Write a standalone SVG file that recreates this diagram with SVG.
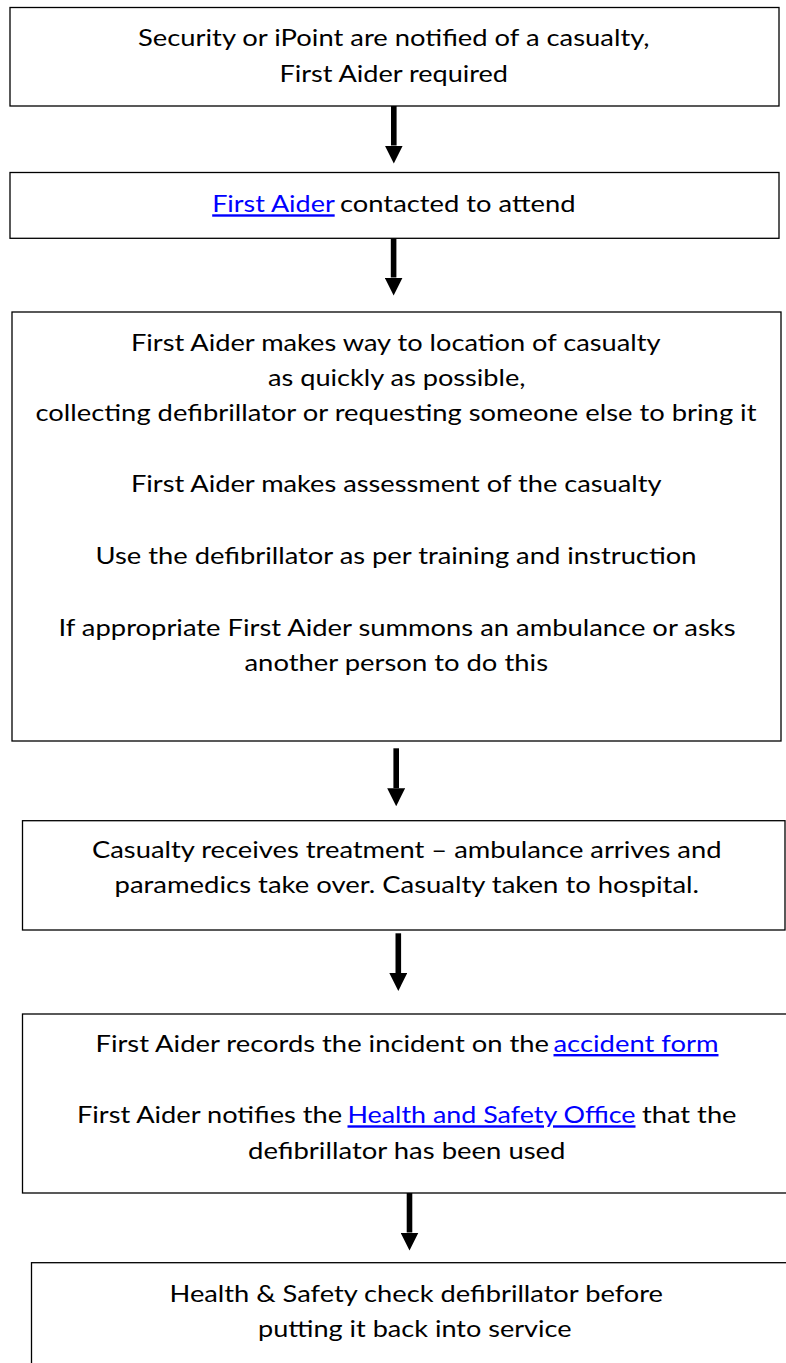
<svg xmlns="http://www.w3.org/2000/svg" width="786" height="1363" viewBox="0 0 786 1363">
<style>
.box{fill:#fff;stroke:#000;stroke-width:1.3}
.t{font-family:Lato,"Open Sans","Liberation Sans",sans-serif;font-size:24px;fill:#000}
.lk{fill:#0000ff;text-decoration:underline}
.ar{stroke:#000;stroke-width:5.6;fill:none}
</style>
<defs>
<marker id="ah" markerUnits="userSpaceOnUse" markerWidth="18" markerHeight="18" refX="0" refY="9" orient="auto" viewBox="0 0 18 18">
<path d="M0,0 L18,9 L0,18 z" fill="#000"/>
</marker>
</defs>
<rect width="786" height="1363" fill="#fff"/>
<g id="connectors">
<line class="ar" x1="393.8" y1="106" x2="393.8" y2="145.5" marker-end="url(#ah)"/>
<line class="ar" x1="393.6" y1="238.3" x2="393.6" y2="277.5" marker-end="url(#ah)"/>
<line class="ar" x1="396.2" y1="748.3" x2="396.2" y2="788.2" marker-end="url(#ah)"/>
<line class="ar" x1="398.3" y1="933.3" x2="398.3" y2="973" marker-end="url(#ah)"/>
<line class="ar" x1="409.5" y1="1193" x2="409.5" y2="1232.5" marker-end="url(#ah)"/>
</g>
<g id="node1">
<rect class="box" x="10" y="7.5" width="769" height="98.5"/>
<text class="t" x="138" y="46.3" textLength="511.5" lengthAdjust="spacingAndGlyphs">Security or iPoint are notified of a casualty,</text>
<text class="t" x="279.5" y="82" textLength="228.5" lengthAdjust="spacingAndGlyphs">First Aider required</text>
</g>
<g id="node2">
<rect class="box" x="10" y="172.5" width="769" height="65.8"/>
<text class="t lk" x="212.2" y="212.3" textLength="122.5" lengthAdjust="spacingAndGlyphs">First Aider</text>
<text class="t" x="340" y="212.3" textLength="235.5" lengthAdjust="spacingAndGlyphs">contacted to attend</text>
</g>
<g id="node3">
<rect class="box" x="12" y="312" width="769" height="429"/>
<text class="t" x="131" y="351" textLength="529.5" lengthAdjust="spacingAndGlyphs">First Aider makes way to location of casualty</text>
<text class="t" x="268" y="386" textLength="257.5" lengthAdjust="spacingAndGlyphs">as quickly as possible,</text>
<text class="t" x="35.5" y="421" textLength="721" lengthAdjust="spacingAndGlyphs">collecting defibrillator or requesting someone else to bring it</text>
<text class="t" x="131" y="492" textLength="530.5" lengthAdjust="spacingAndGlyphs">First Aider makes assessment of the casualty</text>
<text class="t" x="95.5" y="563.5" textLength="601" lengthAdjust="spacingAndGlyphs">Use the defibrillator as per training and instruction</text>
<text class="t" x="58.5" y="635.5" textLength="677" lengthAdjust="spacingAndGlyphs">If appropriate First Aider summons an ambulance or asks</text>
<text class="t" x="244.5" y="671" textLength="303.5" lengthAdjust="spacingAndGlyphs">another person to do this</text>
</g>
<g id="node4">
<rect class="box" x="22.5" y="820.7" width="762.5" height="109.3"/>
<text class="t" x="92" y="857.5" textLength="629.5" lengthAdjust="spacingAndGlyphs">Casualty receives treatment – ambulance arrives and</text>
<text class="t" x="114.5" y="893.2" textLength="584.5" lengthAdjust="spacingAndGlyphs">paramedics take over. Casualty taken to hospital.</text>
</g>
<g id="node5">
<rect class="box" x="22.5" y="1014" width="800" height="179"/>
<text class="t" x="95.5" y="1052" textLength="453.5" lengthAdjust="spacingAndGlyphs">First Aider records the incident on the</text>
<text class="t lk" x="553.5" y="1052" textLength="165" lengthAdjust="spacingAndGlyphs">accident form</text>
<text class="t" x="77" y="1123.3" textLength="265" lengthAdjust="spacingAndGlyphs">First Aider notifies the</text>
<text class="t lk" x="347.5" y="1123.3" textLength="288" lengthAdjust="spacingAndGlyphs">Health and Safety Office</text>
<text class="t" x="642" y="1123.3" textLength="94.5" lengthAdjust="spacingAndGlyphs">that the</text>
<text class="t" x="248" y="1159" textLength="317.5" lengthAdjust="spacingAndGlyphs">defibrillator has been used</text>
</g>
<g id="node6">
<rect class="box" x="31.5" y="1262.7" width="800" height="200"/>
<text class="t" x="169.5" y="1301.5" textLength="493.5" lengthAdjust="spacingAndGlyphs">Health &amp; Safety check defibrillator before</text>
<text class="t" x="258" y="1337.3" textLength="313.5" lengthAdjust="spacingAndGlyphs">putting it back into service</text>
</g>
</svg>
